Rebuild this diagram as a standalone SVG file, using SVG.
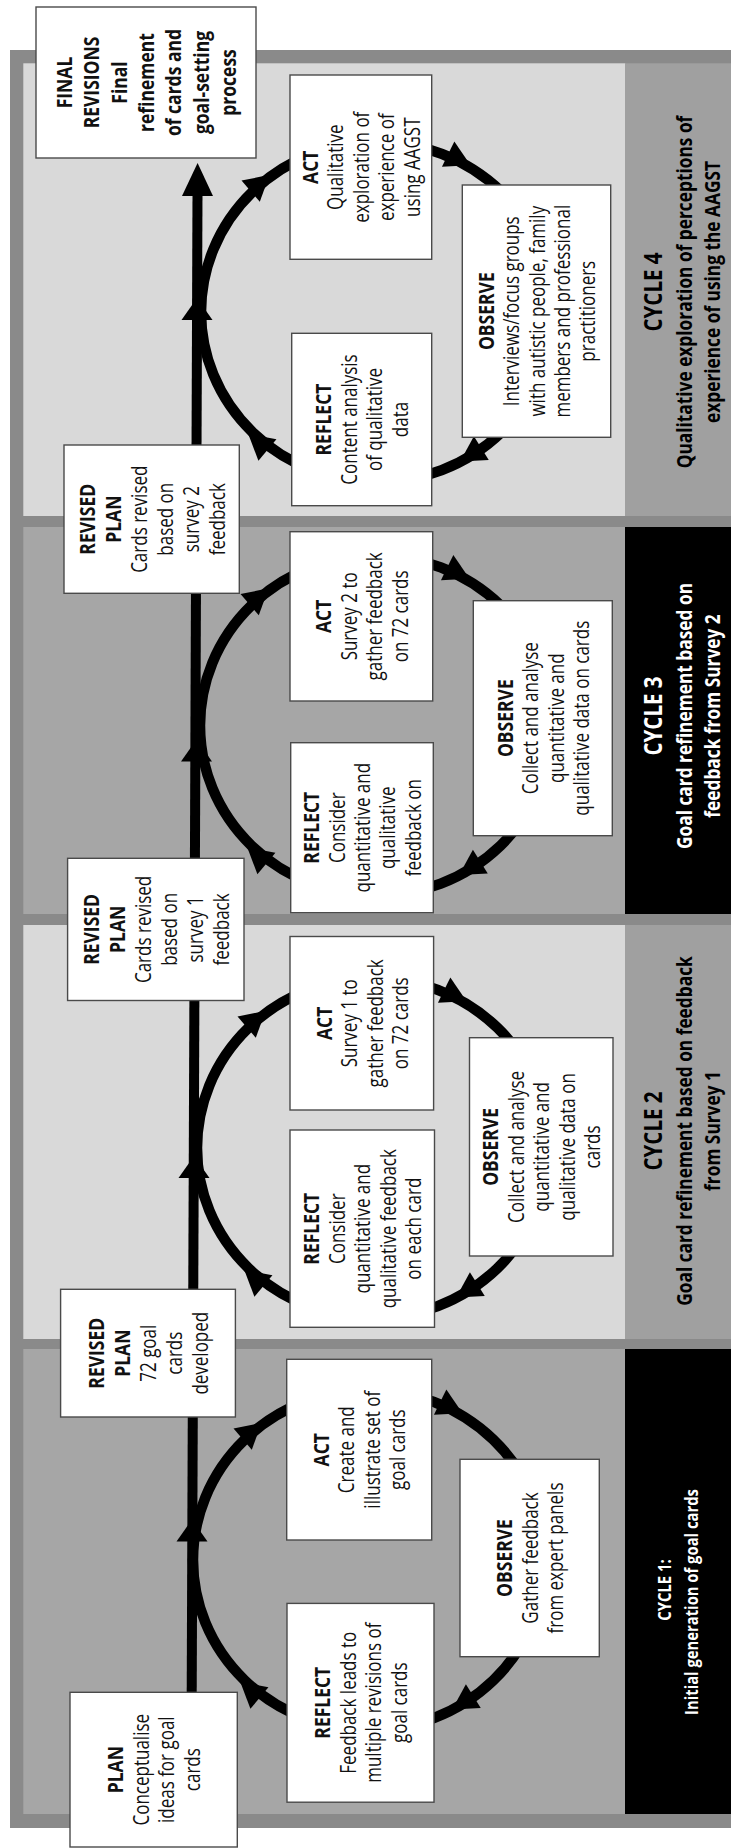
<svg xmlns="http://www.w3.org/2000/svg" width="731" height="1848" viewBox="0 0 731 1848">
<defs>
<style>
.t{font-family:"Open Sans","DejaVu Sans",sans-serif;font-size:17px;fill:#111;text-anchor:middle}
.b{font-weight:bold;font-size:17.5px}
.box{fill:#fff;stroke:#4a4a4a;stroke-width:1.4}
.lt{fill:#d9d9d9}
.md{fill:#a6a6a6}
.gl{fill:#a0a0a0}
.bk{fill:#000}
.lbl{font-family:"Open Sans","DejaVu Sans",sans-serif;font-weight:bold;text-anchor:middle}
.cyc{fill:none;stroke:#000;stroke-width:10.5}
</style>
<path id="ah" d="M14,0 L-11,-14 L-11,14 Z"/>
<path id="la" d="M0,-22 L15.5,0 L-15.5,0 Z"/>
</defs>
<rect width="731" height="1848" fill="#fff"/>
<g id="frame">
<rect x="10" y="50" width="730" height="1778" fill="#8a8a8a"/>
<rect class="lt" x="23.3" y="63.3" width="602" height="452.7"/>
<rect class="gl" x="625" y="63.3" width="110" height="452.7"/>
<rect class="md" x="23.3" y="527" width="602" height="387"/>
<rect class="bk" x="625" y="527" width="110" height="387"/>
<rect class="lt" x="23.3" y="925" width="602" height="414"/>
<rect class="gl" x="625" y="925" width="110" height="414"/>
<rect class="md" x="23.3" y="1349" width="602" height="465"/>
<rect class="bk" x="625" y="1349" width="110" height="465"/>
</g>
<g id="cycle4-label">
<text class="lbl" fill="#000" transform="translate(0,292) rotate(-90) scale(1,1.25)"><tspan x="0" y="529.6" font-size="20.5">CYCLE 4</tspan><tspan x="0" y="553.6" font-size="17.3">Qualitative exploration of perceptions of</tspan><tspan x="0" y="576" font-size="17.3">experience of using the AAGST</tspan></text>
</g>
<g id="cycle3-label">
<text class="lbl" fill="#fff" transform="translate(0,716) rotate(-90) scale(1,1.25)"><tspan x="0" y="529.6" font-size="20.5">CYCLE 3</tspan><tspan x="0" y="553.6" font-size="17.3">Goal card refinement based on</tspan><tspan x="0" y="576" font-size="17.3">feedback from Survey 2</tspan></text>
</g>
<g id="cycle2-label">
<text class="lbl" fill="#000" transform="translate(0,1131) rotate(-90) scale(1,1.25)"><tspan x="0" y="529.6" font-size="20.5">CYCLE 2</tspan><tspan x="0" y="553.6" font-size="17.3">Goal card refinement based on feedback</tspan><tspan x="0" y="576" font-size="17.3">from Survey 1</tspan></text>
</g>
<g id="cycle1-label">
<text class="lbl" fill="#fff" font-size="14.8" transform="translate(0,1596) rotate(-90) scale(1,1.25)"><tspan x="6" y="536.8">CYCLE 1:</tspan><tspan x="-6" y="558.4">Initial generation of goal cards</tspan></text>
</g>
<g id="connectors">
<ellipse class="cyc" cx="377" cy="312" rx="176" ry="170"/>
<ellipse class="cyc" cx="376" cy="725.5" rx="176" ry="170"/>
<ellipse class="cyc" cx="373" cy="1148" rx="176" ry="170"/>
<ellipse class="cyc" cx="369" cy="1560" rx="176" ry="170"/>
<line x1="191.7" y1="1693" x2="197.5" y2="194" stroke="#000" stroke-width="10"/>
<path d="M197.6,163 L213,196 L182,196 Z" fill="#000"/>
<use href="#la" transform="translate(197,320)"/>
<use href="#la" transform="translate(196.5,761.5)"/>
<use href="#la" transform="translate(194,1178)"/>
<use href="#la" transform="translate(192,1541.5)"/>
<use href="#ah" transform="translate(259,184) rotate(-40.7)"/>
<use href="#ah" transform="translate(458,159) rotate(26.3)"/>
<use href="#ah" transform="translate(472,454) rotate(148)"/>
<use href="#ah" transform="translate(259,443) rotate(220)"/>
<use href="#ah" transform="translate(258,597.5) rotate(-40.7)"/>
<use href="#ah" transform="translate(457,572.5) rotate(26.3)"/>
<use href="#ah" transform="translate(471,867.5) rotate(148)"/>
<use href="#ah" transform="translate(258,856.5) rotate(220)"/>
<use href="#ah" transform="translate(255,1020) rotate(-40.7)"/>
<use href="#ah" transform="translate(454,995) rotate(26.3)"/>
<use href="#ah" transform="translate(468,1290) rotate(148)"/>
<use href="#ah" transform="translate(255,1279) rotate(220)"/>
<use href="#ah" transform="translate(251,1432) rotate(-40.7)"/>
<use href="#ah" transform="translate(450,1407) rotate(26.3)"/>
<use href="#ah" transform="translate(464,1702) rotate(148)"/>
<use href="#ah" transform="translate(251,1691) rotate(220)"/>
</g>
<g id="final-revisions">
<rect class="box" x="36" y="7" width="220" height="151"/>
<text class="t b" transform="translate(146,82.5) rotate(-90) scale(1,1.25)"><tspan x="0" y="-59.6">FINAL</tspan><tspan x="0" dy="22">REVISIONS</tspan><tspan x="0" dy="22">Final</tspan><tspan x="0" dy="22">refinement</tspan><tspan x="0" dy="22">of cards and</tspan><tspan x="0" dy="22">goal-setting</tspan><tspan x="0" dy="22">process</tspan></text>
</g>
<g id="act4">
<rect class="box" x="290" y="75" width="141.7" height="184.3"/>
<text class="t" transform="translate(360.85,167.2) rotate(-90) scale(1,1.25)"><tspan class="b" x="0" y="-34.4">ACT</tspan><tspan x="0" dy="20.4">Qualitative</tspan><tspan x="0" dy="20.4">exploration of</tspan><tspan x="0" dy="20.4">experience of</tspan><tspan x="0" dy="20.4">using AAGST</tspan></text>
</g>
<g id="observe4">
<rect class="box" x="462.3" y="185" width="148.4" height="252.3"/>
<text class="t" transform="translate(536.5,311.2) rotate(-90) scale(1,1.25)"><tspan class="b" x="0" y="-34.4">OBSERVE</tspan><tspan x="0" dy="20.4">Interviews/focus groups</tspan><tspan x="0" dy="20.4">with autistic people, family</tspan><tspan x="0" dy="20.4">members and professional</tspan><tspan x="0" dy="20.4">practitioners</tspan></text>
</g>
<g id="reflect4">
<rect class="box" x="291.7" y="333.3" width="140" height="172.4"/>
<text class="t" transform="translate(361.7,419.5) rotate(-90) scale(1,1.25)"><tspan class="b" x="0" y="-24.2">REFLECT</tspan><tspan x="0" dy="20.4">Content analysis</tspan><tspan x="0" dy="20.4">of qualitative</tspan><tspan x="0" dy="20.4">data</tspan></text>
</g>
<g id="revised-plan3">
<rect class="box" x="64" y="445" width="175.3" height="148.3"/>
<text class="t" transform="translate(151.65,519.2) rotate(-90) scale(1,1.25)"><tspan class="b" x="0" y="-45.6">REVISED</tspan><tspan class="b" x="0" dy="20.8">PLAN</tspan><tspan x="0" dy="20.8">Cards revised</tspan><tspan x="0" dy="20.8">based on</tspan><tspan x="0" dy="20.8">survey 2</tspan><tspan x="0" dy="20.8">feedback</tspan></text>
</g>
<g id="act3">
<rect class="box" x="290" y="531.7" width="142.7" height="169.3"/>
<text class="t" transform="translate(361.35,616.35) rotate(-90) scale(1,1.25)"><tspan class="b" x="0" y="-24.2">ACT</tspan><tspan x="0" dy="20.4">Survey 2 to</tspan><tspan x="0" dy="20.4">gather feedback</tspan><tspan x="0" dy="20.4">on 72 cards</tspan></text>
</g>
<g id="observe3">
<rect class="box" x="473.3" y="600.7" width="139" height="235"/>
<text class="t" transform="translate(542.8,718.2) rotate(-90) scale(1,1.25)"><tspan class="b" x="0" y="-24.2">OBSERVE</tspan><tspan x="0" dy="20.4">Collect and analyse</tspan><tspan x="0" dy="20.4">quantitative and</tspan><tspan x="0" dy="20.4">qualitative data on cards</tspan></text>
</g>
<g id="reflect3">
<rect class="box" x="290.7" y="742.7" width="142.6" height="170"/>
<text class="t" transform="translate(362,827.7) rotate(-90) scale(1,1.25)"><tspan class="b" x="0" y="-34.4">REFLECT</tspan><tspan x="0" dy="20.4">Consider</tspan><tspan x="0" dy="20.4">quantitative and</tspan><tspan x="0" dy="20.4">qualitative</tspan><tspan x="0" dy="20.4">feedback on</tspan></text>
</g>
<g id="revised-plan2">
<rect class="box" x="67.6" y="858.3" width="176.4" height="142.2"/>
<text class="t" transform="translate(155.8,929.4) rotate(-90) scale(1,1.25)"><tspan class="b" x="0" y="-45.6">REVISED</tspan><tspan class="b" x="0" dy="20.8">PLAN</tspan><tspan x="0" dy="20.8">Cards revised</tspan><tspan x="0" dy="20.8">based on</tspan><tspan x="0" dy="20.8">survey 1</tspan><tspan x="0" dy="20.8">feedback</tspan></text>
</g>
<g id="act2">
<rect class="box" x="290" y="936.5" width="143.6" height="173.5"/>
<text class="t" transform="translate(361.8,1023.3) rotate(-90) scale(1,1.25)"><tspan class="b" x="0" y="-24.2">ACT</tspan><tspan x="0" dy="20.4">Survey 1 to</tspan><tspan x="0" dy="20.4">gather feedback</tspan><tspan x="0" dy="20.4">on 72 cards</tspan></text>
</g>
<g id="observe2">
<rect class="box" x="469.5" y="1037.7" width="143.5" height="218.3"/>
<text class="t" transform="translate(541.25,1146.9) rotate(-90) scale(1,1.25)"><tspan class="b" x="0" y="-34.4">OBSERVE</tspan><tspan x="0" dy="20.4">Collect and analyse</tspan><tspan x="0" dy="20.4">quantitative and</tspan><tspan x="0" dy="20.4">qualitative data on</tspan><tspan x="0" dy="20.4">cards</tspan></text>
</g>
<g id="reflect2">
<rect class="box" x="290" y="1130" width="144.5" height="197.3"/>
<text class="t" transform="translate(362.25,1228.7) rotate(-90) scale(1,1.25)"><tspan class="b" x="0" y="-34.4">REFLECT</tspan><tspan x="0" dy="20.4">Consider</tspan><tspan x="0" dy="20.4">quantitative and</tspan><tspan x="0" dy="20.4">qualitative feedback</tspan><tspan x="0" dy="20.4">on each card</tspan></text>
</g>
<g id="revised-plan1">
<rect class="box" x="60.6" y="1289.3" width="174.8" height="127.7"/>
<text class="t" transform="translate(148,1353.2) rotate(-90) scale(1,1.25)"><tspan class="b" x="0" y="-35.2">REVISED</tspan><tspan class="b" x="0" dy="20.8">PLAN</tspan><tspan x="0" dy="20.8">72 goal</tspan><tspan x="0" dy="20.8">cards</tspan><tspan x="0" dy="20.8">developed</tspan></text>
</g>
<g id="act1">
<rect class="box" x="286.7" y="1359.3" width="145" height="180.7"/>
<text class="t" transform="translate(359.2,1449.7) rotate(-90) scale(1,1.25)"><tspan class="b" x="0" y="-24.2">ACT</tspan><tspan x="0" dy="20.4">Create and</tspan><tspan x="0" dy="20.4">illustrate set of</tspan><tspan x="0" dy="20.4">goal cards</tspan></text>
</g>
<g id="observe1">
<rect class="box" x="460" y="1459.3" width="139.3" height="197.4"/>
<text class="t" transform="translate(529.7,1558) rotate(-90) scale(1,1.25)"><tspan class="b" x="0" y="-14">OBSERVE</tspan><tspan x="0" dy="20.4">Gather feedback</tspan><tspan x="0" dy="20.4">from expert panels</tspan></text>
</g>
<g id="reflect1">
<rect class="box" x="287" y="1603.4" width="147" height="198.8"/>
<text class="t" transform="translate(360.5,1702.7) rotate(-90) scale(1,1.25)"><tspan class="b" x="0" y="-24.2">REFLECT</tspan><tspan x="0" dy="20.4">Feedback leads to</tspan><tspan x="0" dy="20.4">multiple revisions of</tspan><tspan x="0" dy="20.4">goal cards</tspan></text>
</g>
<g id="plan">
<rect class="box" x="70" y="1692.3" width="167.3" height="154.7"/>
<text class="t" transform="translate(153.65,1769.7) rotate(-90) scale(1,1.25)"><tspan class="b" x="0" y="-24.2">PLAN</tspan><tspan x="0" dy="20.4">Conceptualise</tspan><tspan x="0" dy="20.4">ideas for goal</tspan><tspan x="0" dy="20.4">cards</tspan></text>
</g>
</svg>
